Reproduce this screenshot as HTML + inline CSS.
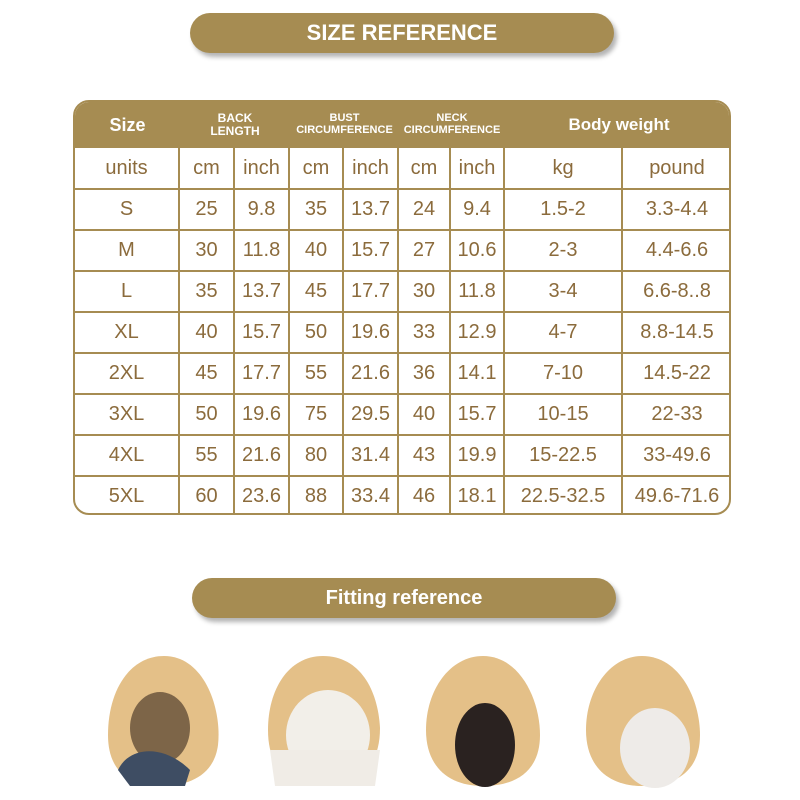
<!DOCTYPE html>
<html><head><style>
body{margin:0;width:800px;height:800px;background:#fff;position:relative;font-family:"Liberation Sans","DejaVu Sans",sans-serif;overflow:hidden}
.pill{position:absolute;background:#a68c52;color:#fff;font-weight:bold;text-align:center;border-radius:20px;box-shadow:3px 4px 5px rgba(0,0,0,0.3)}
.tbl{position:absolute;left:73px;top:100px;width:654px;height:411px;border:2px solid #a68c52;border-radius:16px;overflow:hidden;background:#fff}
.c{position:absolute;display:flex;align-items:center;justify-content:center;color:#8b6b3c;font-size:20px;box-sizing:border-box;border-right:2px solid #a68c52;border-bottom:2px solid #a68c52}
.h{position:absolute;display:flex;align-items:center;justify-content:center;color:#fff;font-weight:bold;text-align:center;line-height:1.05}
</style></head><body>
<div class="pill" style="left:190px;top:13px;width:424px;height:40px;line-height:40px;font-size:22px">SIZE REFERENCE</div>
<div class="tbl">
<div style="position:absolute;left:0;top:0;width:100%;height:46px;background:#a68c52"></div>
<div class="h" style="left:0;top:0;width:105px;height:46px;font-size:18px">Size</div>
<div class="h" style="left:105px;top:0;width:110px;height:46px;font-size:12px">BACK<br>LENGTH</div>
<div class="h" style="left:215px;top:0;width:109px;height:46px;font-size:11px">BUST<br>CIRCUMFERENCE</div>
<div class="h" style="left:324px;top:0;width:106px;height:46px;font-size:11px">NECK<br>CIRCUMFERENCE</div>
<div class="h" style="left:430px;top:0;width:228px;height:46px;font-size:17px">Body weight</div>
<div id="g"></div>
</div>
<div class="pill" style="left:192px;top:578px;width:424px;height:40px;line-height:40px;font-size:20px">Fitting reference</div>
<svg width="800" height="800" style="position:absolute;left:0;top:0;pointer-events:none">
<g fill="#e4c088">
<path d="M164,656 C205,656 222,710 218,745 C214,775 190,786 160,786 C128,786 108,770 108,735 C108,690 130,656 164,656Z"/>
<path d="M323,656 C360,656 378,690 380,728 C380,770 355,786 323,786 C290,786 268,770 268,730 C268,690 288,656 323,656Z"/>
<path d="M483,656 C520,656 540,700 540,735 C540,772 515,786 483,786 C450,786 426,768 426,730 C426,690 450,656 483,656Z"/>
<path d="M642,656 C680,656 700,700 700,735 C700,772 675,786 642,786 C610,786 586,768 586,730 C586,690 610,656 642,656Z"/>
</g>
<ellipse cx="160" cy="728" rx="30" ry="36" fill="#7d6548"/>
<path d="M118,770 C130,745 165,745 190,770 L185,786 L130,786Z" fill="#3e4d63"/>
<ellipse cx="328" cy="735" rx="42" ry="45" fill="#f2efe9"/>
<path d="M270,750 L380,750 L375,786 L275,786Z" fill="#f0ece6"/>
<ellipse cx="485" cy="745" rx="30" ry="42" fill="#2a2220"/>
<ellipse cx="655" cy="748" rx="35" ry="40" fill="#eeebe8"/>
</svg>
<script>
var cols=[0,105,160,215,269,324,376,430,548,658];
var rows=[46,88,129,170,211,252,293,334,375,416];
var d=[["units","cm","inch","cm","inch","cm","inch","kg","pound"],
["S","25","9.8","35","13.7","24","9.4","1.5-2","3.3-4.4"],
["M","30","11.8","40","15.7","27","10.6","2-3","4.4-6.6"],
["L","35","13.7","45","17.7","30","11.8","3-4","6.6-8..8"],
["XL","40","15.7","50","19.6","33","12.9","4-7","8.8-14.5"],
["2XL","45","17.7","55","21.6","36","14.1","7-10","14.5-22"],
["3XL","50","19.6","75","29.5","40","15.7","10-15","22-33"],
["4XL","55","21.6","80","31.4","43","19.9","15-22.5","33-49.6"],
["5XL","60","23.6","88","33.4","46","18.1","22.5-32.5","49.6-71.6"]];
var h="";
for(var r=0;r<9;r++)for(var c=0;c<9;c++){
h+='<div class="c" style="left:'+cols[c]+'px;top:'+rows[r]+'px;width:'+(cols[c+1]-cols[c])+'px;height:'+(rows[r+1]-rows[r])+'px">'+d[r][c]+'</div>';}
document.getElementById("g").innerHTML=h;
</script>
</body></html>
